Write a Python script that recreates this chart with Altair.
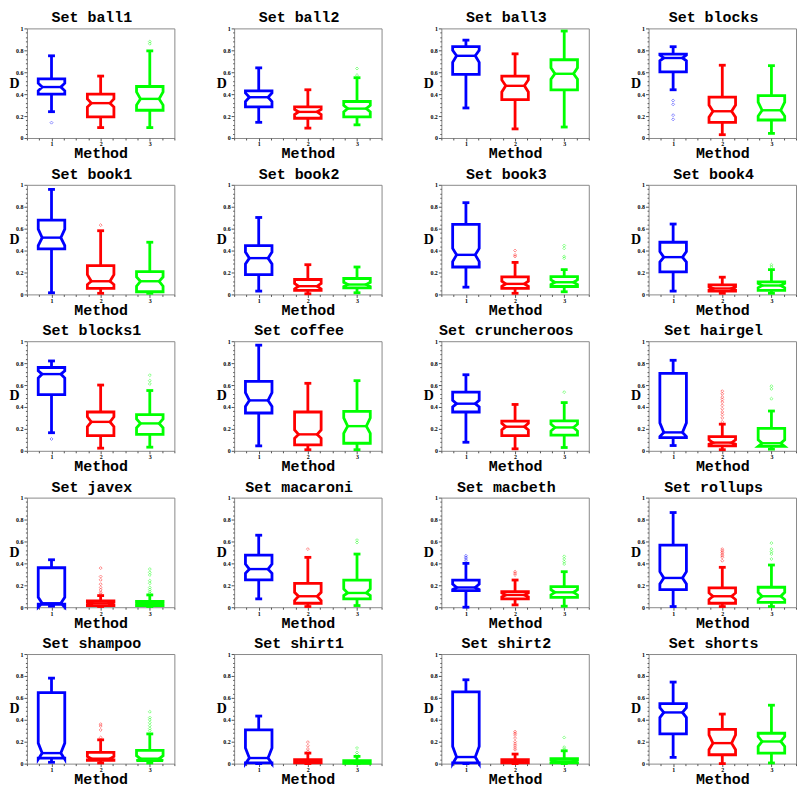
import altair as alt
import pandas as pd

# ---------------- data ----------------
sets = ["ball1", "ball2", "ball3", "blocks", "book1", "book2", "book3", "book4",
        "blocks1", "coffee", "cruncheroos", "hairgel", "javex", "macaroni",
        "macbeth", "rollups", "shampoo", "shirt1", "shirt2", "shorts"]
methods = [1, 2, 3]
method_colors = ["#0000ff", "#ff0000", "#00ff00"]

# per set: [method1, method2, method3]
w_lo = [
    [0.24, 0.095, 0.095], [0.143, 0.09, 0.12], [0.274, 0.083, 0.10], [0.44, 0.03, 0.042],
    [0.015, 0.01, 0.01], [0.03, 0.006, 0.015], [0.066, 0.01, 0.024], [0.03, 0.01, 0.01],
    [0.165, 0.024, 0.033], [0.045, 0.01, 0.01], [0.078, 0.018, 0.03], [0.048, 0.01, 0.015],
    [0.01, 0.006, 0.006], [0.076, 0.006, 0.015], [0.0, 0.021, 0.009], [0.006, 0.006, 0.006],
    [0.012, 0.006, 0.006], [0.0, 0.0, 0.0], [0.0, 0.0, 0.0], [0.057, 0.0, 0.006],
]
q1 = [
    [0.40, 0.193, 0.253], [0.283, 0.18, 0.193], [0.58, 0.35, 0.44], [0.604, 0.143, 0.164],
    [0.416, 0.054, 0.024], [0.18, 0.036, 0.06], [0.25, 0.054, 0.072], [0.205, 0.03, 0.036],
    [0.513, 0.138, 0.15], [0.345, 0.054, 0.069], [0.354, 0.138, 0.144], [0.12, 0.045, 0.04],
    [0.027, 0.015, 0.015], [0.25, 0.036, 0.076], [0.152, 0.076, 0.09], [0.16, 0.036, 0.045],
    [0.051, 0.03, 0.027], [0.006, 0.006, 0.003], [0.006, 0.006, 0.006], [0.271, 0.081, 0.096],
]
med = [
    [0.465, 0.318, 0.357], [0.372, 0.238, 0.268], [0.75, 0.476, 0.586], [0.73, 0.244, 0.253],
    [0.518, 0.12, 0.12], [0.331, 0.075, 0.09], [0.361, 0.096, 0.111], [0.34, 0.054, 0.081],
    [0.70, 0.264, 0.25], [0.46, 0.15, 0.225], [0.43, 0.22, 0.213], [0.168, 0.075, 0.069],
    [0.036, 0.036, 0.03], [0.348, 0.10, 0.13], [0.18, 0.112, 0.136], [0.267, 0.10, 0.10],
    [0.096, 0.045, 0.045], [0.051, 0.021, 0.015], [0.06, 0.021, 0.021], [0.467, 0.187, 0.202],
]
q3 = [
    [0.54, 0.40, 0.47], [0.43, 0.283, 0.333], [0.833, 0.565, 0.714], [0.765, 0.372, 0.387],
    [0.678, 0.262, 0.208], [0.446, 0.136, 0.145], [0.639, 0.16, 0.163], [0.476, 0.087, 0.114],
    [0.76, 0.354, 0.33], [0.634, 0.354, 0.36], [0.535, 0.27, 0.273], [0.706, 0.13, 0.204],
    [0.36, 0.058, 0.052], [0.476, 0.218, 0.248], [0.248, 0.142, 0.188], [0.567, 0.176, 0.182],
    [0.648, 0.102, 0.12], [0.307, 0.036, 0.027], [0.654, 0.036, 0.045], [0.548, 0.313, 0.277],
]
w_hi = [
    [0.75, 0.565, 0.795], [0.64, 0.44, 0.55], [0.893, 0.768, 0.976], [0.833, 0.664, 0.66],
    [0.958, 0.581, 0.476], [0.702, 0.271, 0.25], [0.837, 0.292, 0.226], [0.642, 0.157, 0.226],
    [0.82, 0.60, 0.55], [0.964, 0.616, 0.64], [0.694, 0.423, 0.44], [0.826, 0.243, 0.363],
    [0.433, 0.106, 0.112], [0.657, 0.455, 0.485], [0.40, 0.248, 0.324], [0.864, 0.364, 0.385],
    [0.78, 0.217, 0.271], [0.434, 0.096, 0.066], [0.765, 0.087, 0.117], [0.744, 0.452, 0.533],
]
notch_lo = [
    [0.43, 0.283, 0.30], [0.333, 0.214, 0.238], [0.69, 0.42, 0.536], [0.705, 0.19, 0.20],
    [0.446, 0.09, 0.075], [0.277, 0.05, 0.072], [0.30, 0.075, 0.09], [0.295, 0.04, 0.06],
    [0.664, 0.22, 0.21], [0.405, 0.114, 0.16], [0.40, 0.19, 0.18], [0.13, 0.06, 0.04],
    [0.0, 0.024, 0.021], [0.309, 0.06, 0.106], [0.16, 0.094, 0.112], [0.212, 0.07, 0.07],
    [0.04, 0.036, 0.027], [0.0, 0.012, 0.009], [0.0, 0.012, 0.009], [0.42, 0.127, 0.157],
]
notch_hi = [
    [0.50, 0.357, 0.42], [0.41, 0.26, 0.298], [0.80, 0.53, 0.64], [0.756, 0.30, 0.327],
    [0.596, 0.18, 0.16], [0.386, 0.10, 0.11], [0.42, 0.12, 0.133], [0.39, 0.07, 0.10],
    [0.73, 0.31, 0.29], [0.53, 0.19, 0.30], [0.46, 0.25, 0.243], [0.255, 0.10, 0.10],
    [0.09, 0.048, 0.042], [0.394, 0.136, 0.167], [0.21, 0.13, 0.16], [0.324, 0.13, 0.136],
    [0.187, 0.066, 0.072], [0.142, 0.03, 0.021], [0.157, 0.03, 0.033], [0.51, 0.262, 0.247],
]
outliers = [
    [[0.14], [], [0.86, 0.88]],
    [[], [], [0.574, 0.634]],
    [[], [], []],
    [[0.342, 0.307, 0.208, 0.17], [], []],
    [[], [0.632], []],
    [[], [], []],
    [[], [0.346, 0.36, 0.40], [0.446, 0.42, 0.346, 0.33]],
    [[], [], [0.27, 0.25]],
    [[0.108], [], [0.69, 0.64, 0.61]],
    [[], [], []],
    [[], [], [0.535]],
    [[], [0.264, 0.30, 0.33, 0.354, 0.384, 0.414, 0.444, 0.468, 0.49, 0.52, 0.544], [0.59, 0.565, 0.475]],
    [[], [0.357, 0.28, 0.25, 0.21, 0.18, 0.158, 0.136, 0.12],
     [0.348, 0.318, 0.294, 0.242, 0.218, 0.18, 0.16, 0.142, 0.127]],
    [[], [0.53], [0.612, 0.59]],
    [[0.47, 0.455, 0.44, 0.424], [0.324, 0.31, 0.294], [0.464, 0.44, 0.415, 0.394]],
    [[], [0.53, 0.515, 0.5, 0.485, 0.47, 0.455, 0.424], [0.585, 0.53, 0.506, 0.485, 0.44]],
    [[], [0.36, 0.343, 0.307, 0.238], [0.473, 0.42, 0.40, 0.373, 0.346, 0.32, 0.30]],
    [[], [0.196, 0.163, 0.133, 0.111], [0.142, 0.102, 0.081]],
    [[], [0.292, 0.277, 0.262, 0.232, 0.20, 0.18, 0.163, 0.142, 0.127], [0.238, 0.15, 0.133]],
    [[], [], []],
]

y_tick_values = [round(i * 0.04, 2) for i in range(26)]
x_tick_values = [0.5 + i * 0.25 for i in range(13)]

# ---------------- style ----------------
W, H = 148, 110
BOX_HALF = 0.27
NOTCH_HALF = 0.19
CAP_HALF = 0.07
MONO = "Liberation Mono"
SERIF = "Liberation Serif"

major_y = "abs(datum.value*5 - round(datum.value*5)) < 0.001"
major_x = "abs(datum.value - round(datum.value)) < 0.001"

x_axis = alt.Axis(
    values=x_tick_values, labelExpr=f"{major_x} ? format(datum.value, 'd') : ''",
    title="Method", titleFont=MONO, titleFontSize=15, titleFontWeight="bold", titleColor="black",
    titlePadding=-1, labelFont=SERIF, labelFontSize=6, labelFontWeight="bold", labelColor="black",
    labelPadding=0, domain=False, grid=False, tickColor="#555", tickWidth=1,
    tickSize={"condition": {"test": major_x, "value": 3}, "value": 2}, labelFlush=False,
)
y_axis = alt.Axis(
    values=y_tick_values, format="~g", labelExpr=f"{major_y} ? datum.label : ''",
    title="D", titleAngle=0, titleX=-13, titleY=H / 2, titleAlign="center", titleBaseline="middle",
    titleFont=SERIF, titleFontSize=14, titleFontWeight="bold", titleColor="black",
    labelFont=SERIF, labelFontSize=6, labelFontWeight="bold", labelColor="black", labelPadding=1,
    domain=False, grid=False, tickColor="#555", tickWidth=1,
    tickSize={"condition": {"test": major_y, "value": 3}, "value": 1.5}, labelFlush=False,
)
x_scale = alt.Scale(domain=[0.5, 3.5], nice=False, zero=False)
y_scale = alt.Scale(domain=[0, 1], nice=False)
color = alt.Color("method:N", scale=alt.Scale(domain=methods, range=method_colors), legend=None)


def X(field):
    return alt.X(field, type="quantitative", scale=x_scale, axis=x_axis, title="Method")


def Y(field):
    return alt.Y(field, type="quantitative", scale=y_scale, axis=y_axis, title="D")


def panel(i):
    poly, stats, outs = [], [], []
    for j, m in enumerate(methods):
        b, c, d = q1[i][j], med[i][j], q3[i][j]
        nl, nh = notch_lo[i][j], notch_hi[i][j]
        pts = [(m, b), (m + BOX_HALF, b), (m + BOX_HALF, nl), (m + NOTCH_HALF, c),
               (m + BOX_HALF, nh), (m + BOX_HALF, d), (m - BOX_HALF, d), (m - BOX_HALF, nh),
               (m - NOTCH_HALF, c), (m - BOX_HALF, nl), (m - BOX_HALF, b), (m, b)]
        for k, (px, py) in enumerate(pts):
            poly.append(dict(method=m, order=k, x=px, y=py))
        stats.append(dict(method=m, wlo=w_lo[i][j], q1=b, med=c, q3=d, whi=w_hi[i][j],
                          cl=m - CAP_HALF, cr=m + CAP_HALF, ml=m - NOTCH_HALF, mr=m + NOTCH_HALF))
        for v in outliers[i][j]:
            outs.append(dict(method=m, v=v))
    poly = pd.DataFrame(poly)
    stats = pd.DataFrame(stats)
    outs = pd.DataFrame(outs if outs else [dict(method=1, v=None)])

    box = alt.Chart(poly).mark_line(strokeWidth=2.8, strokeJoin="miter").encode(
        x=X("x"), y=Y("y"), order="order:Q", detail="method:N", color=color)
    base = alt.Chart(stats)
    wh_top = base.mark_rule(strokeWidth=2.8).encode(x=X("method"), y=Y("q3"), y2="whi", color=color)
    wh_bot = base.mark_rule(strokeWidth=2.8).encode(x=X("method"), y=Y("wlo"), y2="q1", color=color)
    cap_top = base.mark_rule(strokeWidth=2.8).encode(x=X("cl"), x2="cr", y=Y("whi"), color=color)
    cap_bot = base.mark_rule(strokeWidth=2.8).encode(x=X("cl"), x2="cr", y=Y("wlo"), color=color)
    median = base.mark_rule(strokeWidth=2.4).encode(x=X("ml"), x2="mr", y=Y("med"), color=color)
    pts = alt.Chart(outs).mark_point(shape="diamond", size=9, strokeWidth=1, opacity=0.45,
                                     filled=False).encode(x=X("method"), y=Y("v"), color=color)
    return alt.layer(box, wh_top, wh_bot, cap_top, cap_bot, median, pts).properties(
        width=W, height=H,
        title=alt.TitleParams(text=f"Set {sets[i]}", font=MONO, fontSize=15, fontWeight="bold",
                              color="black", offset=0, anchor="middle", frame="bounds"),
    )


chart = alt.concat(*[panel(i) for i in range(len(sets))], columns=4,
                   spacing={"row": 47, "column": 60}, bounds="flush").properties(
    padding={"left": 0, "top": 0, "right": 0, "bottom": 0}
).configure_view(stroke="#8a8a8a", strokeWidth=1)

chart.save("out.html", embed_options={"renderer": "svg", "actions": False})
